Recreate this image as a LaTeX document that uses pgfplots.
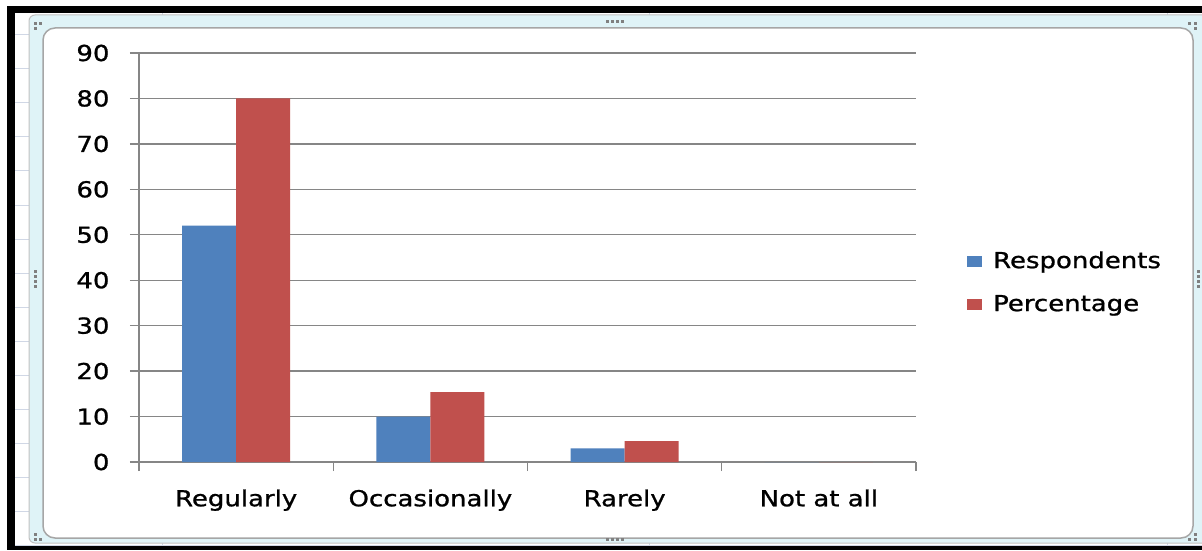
\documentclass[border=0pt]{standalone}
\usepackage{fontspec}
\setmainfont{DejaVu Sans}[FakeStretch=1.18, FakeBold=1]
\usepackage{pgfplots}
\usepackage{pgfplotstable}
\pgfplotsset{compat=1.18}
\definecolor{resp}{HTML}{4F81BD}
\definecolor{perc}{HTML}{C0504D}
\definecolor{gridc}{HTML}{868686}
\definecolor{sheet}{HTML}{D0D7E5}
\definecolor{selc}{HTML}{DFF3F7}
\definecolor{chartb}{HTML}{A6A6A6}
\pgfplotsset{sqlegend/.style={legend image code/.code={\fill[##1] (0pt,-4.5pt) rectangle (15pt,7pt);}}}
\pgfplotstableread{
x resp perc
0 52 80
1 10 15.4
2 3 4.6
3 0 0
}\datatable
\begin{document}
\fontsize{22pt}{26pt}\selectfont
\begin{tikzpicture}[x=1pt,y=1pt]
\useasboundingbox (0,0) rectangle (1202,550);
\fill[white] (0,0) rectangle (1202,550);
% spreadsheet grid
\foreach \py in {35,69,...,545} {\draw[sheet, line width=1pt] (15,{550-\py}) -- (1202,{550-\py});}
\foreach \px in {162,649,1167} {\draw[sheet, line width=1pt] (\px,0) -- (\px,537);}
% black frame
\fill[black] (7,0) rectangle (15,544);
\fill[black] (7,537) rectangle (1202,544);
\fill[black] (7,0) rectangle (1202,4);
% selection strip
\draw[fill=selc, draw=chartb!70, line width=1pt, rounded corners=6pt] (29,7) rectangle (1212,535);
% chart area
\draw[fill=white, draw=chartb, line width=1.5pt, rounded corners=12pt] (43,12) rectangle (1193,522);
% handles
\foreach \hx in {606,611,616,621} {\fill[gray] (\hx,527) rectangle (\hx+3,530);}
\foreach \hy in {262,267,272,277} {\fill[gray] (34,\hy) rectangle (37,\hy+3);}
\foreach \hy in {262,267,272,277} {\fill[gray] (1197,\hy) rectangle (1200,\hy+3);}
\foreach \hx in {606,611,616,621} {\fill[gray] (\hx,9) rectangle (\hx+3,12);}
\fill[gray] (34,525) rectangle (37,528); \fill[gray] (39,525) rectangle (42,528); \fill[gray] (34,520) rectangle (37,523);
\fill[gray] (34,9) rectangle (37,12); \fill[gray] (39,9) rectangle (42,12); \fill[gray] (34,14) rectangle (37,17);
\fill[gray] (1188,9) rectangle (1191,12); \fill[gray] (1194,9) rectangle (1197,12); \fill[gray] (1194,14) rectangle (1197,17);
\fill[gray] (1188,525) rectangle (1191,528); \fill[gray] (1194,525) rectangle (1197,528); \fill[gray] (1194,520) rectangle (1197,523);
\begin{axis}[
  at={(139pt,88pt)}, anchor=south west,
  width=777pt, height=409pt, scale only axis,
  xmin=-0.5, xmax=3.5, ymin=0, ymax=90,
  ybar=0pt, bar width=54pt,
  axis x line*=bottom, axis y line*=left,
  axis line style={gridc, line width=1.3pt},
  ymajorgrids, grid style={gridc, line width=1.3pt},
  ytick={0,10,...,90},
  xtick={-0.5,0.5,1.5,2.5,3.5},
  xticklabels={Regularly,Occasionally,Rarely,Not at all},
  x tick label as interval,
  tick align=outside, major tick length=9pt,
  tick style={gridc, line width=1.3pt},
  /pgf/number format/assume math mode=true,
  yticklabel style={xshift=-13pt},
  xticklabel style={yshift=-11pt},
  legend cell align=left,
  legend style={at={(axis description cs:1.0617,0.435)}, anchor=west,
    draw=none, fill=none, row sep=22pt, column sep=11pt,
    nodes={inner sep=0pt, text height=16pt, text depth=5pt}},
]
\addplot[fill=resp, draw=none, sqlegend] table[x=x,y=resp]{\datatable};
\addplot[fill=perc, draw=none, sqlegend] table[x=x,y=perc]{\datatable};
\legend{Respondents,Percentage}
\end{axis}
\end{tikzpicture}
\end{document}
